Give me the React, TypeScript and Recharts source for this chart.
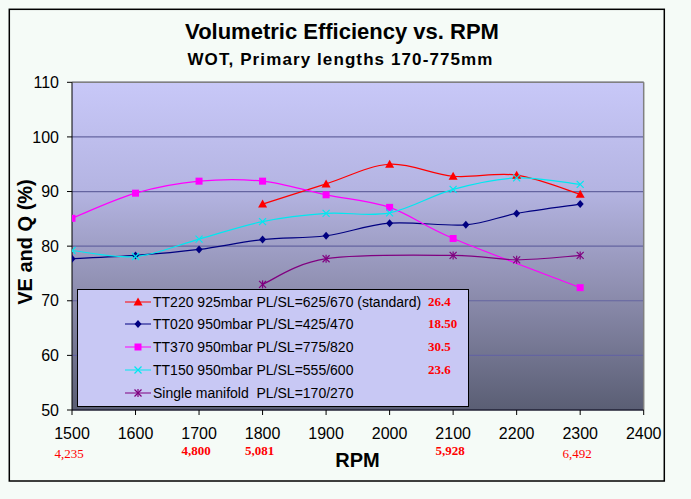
import React from "react";
import { CartesianGrid, Legend, Line, LineChart, ReferenceLine, XAxis, YAxis } from "recharts";

const rpmTicks = [1500, 1600, 1700, 1800, 1900, 2000, 2100, 2200, 2300, 2400];
const veTicks = [50, 60, 70, 80, 90, 100, 110];

const tt220Rpm = [1800, 1900, 2000, 2100, 2200, 2300];
const tt220Ve = [87.7, 91.4, 95.0, 92.8, 93.0, 89.5];

const tt020Rpm = [1500, 1600, 1700, 1800, 1900, 2000, 2120, 2200, 2300];
const tt020Ve = [77.7, 78.3, 79.4, 81.2, 81.9, 84.2, 83.9, 86.0, 87.7];

const tt370Rpm = [1500, 1600, 1700, 1800, 1900, 2000, 2100, 2300];
const tt370Ve = [85.1, 89.7, 91.9, 91.9, 89.4, 87.1, 81.4, 72.4];

const tt150Rpm = [1500, 1600, 1700, 1800, 1900, 2000, 2100, 2200, 2300];
const tt150Ve = [79.2, 78.1, 81.3, 84.5, 86.0, 86.1, 90.4, 92.5, 91.3];

const singleRpm = [1800, 1900, 2100, 2200, 2300];
const singleVe = [73.0, 77.7, 78.3, 77.5, 78.3];

// engine rpm notes printed under some of the x ticks
const noteRpm = [1500, 1700, 1800, 2100, 2300];
const noteText = ["4,235", "4,800", "5,081", "5,928", "6,492"];
const noteBold = [false, true, true, true, false];

const seriesNames = [
  "TT220 925mbar PL/SL=625/670 (standard)",
  "TT020 950mbar PL/SL=425/470",
  "TT370 950mbar PL/SL=775/820",
  "TT150 950mbar PL/SL=555/600",
  "Single manifold  PL/SL=170/270",
];
const seriesNotes = ["26.4", "18.50", "30.5", "23.6", ""];

const SANS = "Arial, 'Liberation Sans', sans-serif";
const SERIF = "'Times New Roman', 'Liberation Serif', serif";

const toPoints = (rpm: number[], ve: number[]) => rpm.map((r, i) => ({ rpm: r, ve: ve[i] }));

const series = [
  { key: "tt220", data: toPoints(tt220Rpm, tt220Ve), color: "#ff0000", shape: "triangle" },
  { key: "tt020", data: toPoints(tt020Rpm, tt020Ve), color: "#000080", shape: "diamond" },
  { key: "tt370", data: toPoints(tt370Rpm, tt370Ve), color: "#ff00ff", shape: "square" },
  { key: "tt150", data: toPoints(tt150Rpm, tt150Ve), color: "#00e8f0", shape: "cross" },
  { key: "single", data: toPoints(singleRpm, singleVe), color: "#800080", shape: "star" },
];

// Excel-style smoothed line (Catmull-Rom through the points)
function excelSmooth(context: any) {
  let pts: number[][] = [];
  return {
    areaStart() {},
    areaEnd() {},
    lineStart() {
      pts = [];
    },
    point(x: number, y: number) {
      pts.push([+x, +y]);
    },
    lineEnd() {
      const n = pts.length;
      if (!n) return;
      context.moveTo(pts[0][0], pts[0][1]);
      for (let i = 0; i < n - 1; i++) {
        const p0 = pts[Math.max(i - 1, 0)];
        const p1 = pts[i];
        const p2 = pts[i + 1];
        const p3 = pts[Math.min(i + 2, n - 1)];
        context.bezierCurveTo(
          p1[0] + (p2[0] - p0[0]) / 6,
          p1[1] + (p2[1] - p0[1]) / 6,
          p2[0] - (p3[0] - p1[0]) / 6,
          p2[1] - (p3[1] - p1[1]) / 6,
          p2[0],
          p2[1]
        );
      }
    },
  };
}

function Marker({ shape, cx, cy, color }: { shape: string; cx: number; cy: number; color: string }) {
  if (shape === "triangle") {
    return <polygon points={`${cx - 4.5},${cy + 3.5} ${cx + 4.5},${cy + 3.5} ${cx},${cy - 4.5}`} fill={color} />;
  }
  if (shape === "diamond") {
    return <polygon points={`${cx},${cy - 4} ${cx + 3.5},${cy} ${cx},${cy + 4} ${cx - 3.5},${cy}`} fill={color} />;
  }
  if (shape === "square") {
    return <rect x={cx - 3.5} y={cy - 3.5} width={7} height={7} fill={color} />;
  }
  const d = 3.5;
  return (
    <g stroke={color} strokeWidth={1.2}>
      <line x1={cx - d} y1={cy - d} x2={cx + d} y2={cy + d} />
      <line x1={cx - d} y1={cy + d} x2={cx + d} y2={cy - d} />
      {shape === "star" ? <line x1={cx} y1={cy - d - 0.5} x2={cx} y2={cy + d + 0.5} /> : null}
    </g>
  );
}

function RpmTick(props: any) {
  const { x, y, payload } = props;
  const idx = noteRpm.indexOf(payload.value);
  return (
    <g>
      <text x={x} y={y + 21.5} textAnchor="middle" fontSize={16} fontFamily={SANS} fill="#000">
        {payload.value}
      </text>
      {idx >= 0 ? (
        <text
          x={x - 3}
          y={y + (noteBold[idx] ? 38 : 41)}
          textAnchor="middle"
          fontSize={13}
          fontWeight={noteBold[idx] ? "bold" : "normal"}
          fontFamily={SERIF}
          fill="#ff0000"
        >
          {noteText[idx]}
        </text>
      ) : null}
    </g>
  );
}

function LegendBox() {
  return (
    <div
      style={{
        width: 392,
        height: 118,
        boxSizing: "border-box",
        background: "#c8c8f4",
        border: "1.5px solid #000",
        position: "relative",
        fontFamily: SANS,
      }}
    >
      {series.map((s, i) => (
        <div
          key={s.key}
          style={{ position: "absolute", left: 0, top: 0.5 + i * 22.9, height: 22, width: "100%", display: "flex", alignItems: "center" }}
        >
          <svg width={26} height={22} style={{ position: "absolute", left: 47 }}>
            <line x1={0} y1={11} x2={26} y2={11} stroke={s.color} strokeWidth={1} />
            <Marker shape={s.shape} cx={13} cy={11} color={s.color} />
          </svg>
          <span style={{ position: "absolute", left: 75, fontSize: 14, color: "#000", whiteSpace: "pre", lineHeight: "22px" }}>
            {seriesNames[i]}
          </span>
          {seriesNotes[i] ? (
            <span
              style={{
                position: "absolute",
                left: 350,
                fontSize: 13,
                fontWeight: "bold",
                fontFamily: SERIF,
                color: "#ff0000",
                lineHeight: "22px",
              }}
            >
              {seriesNotes[i]}
            </span>
          ) : null}
        </div>
      ))}
    </div>
  );
}

export default function App() {
  return (
    <div style={{ position: "fixed", left: 0, top: 0, width: 691, height: 499, background: "#f5fbf7" }}>
      <LineChart width={691} height={499} margin={{ top: 82.3, right: 47.3, bottom: 29, left: 0 }}>
        <defs>
          <linearGradient id="plotBg" x1="0" y1="0" x2="0" y2="1">
            <stop offset="0%" stopColor="#c8c8f8" />
            <stop offset="33%" stopColor="#b4b4e2" />
            <stop offset="62%" stopColor="#9090b2" />
            <stop offset="100%" stopColor="#5a5e74" />
          </linearGradient>
        </defs>
        <rect x={9.3} y={9.3} width={655} height={471.7} fill="none" stroke="#000" strokeWidth={1.5} />
        <CartesianGrid fill="url(#plotBg)" fillOpacity={1} vertical={false} stroke="#6464a0" strokeWidth={1.2} />
        <XAxis
          type="number"
          dataKey="rpm"
          domain={[1500, 2400]}
          ticks={rpmTicks}
          allowDataOverflow
          height={60}
          tickSize={5}
          tickMargin={2}
          stroke="#000"
          tick={<RpmTick />}
        />
        <YAxis
          type="number"
          dataKey="ve"
          domain={[50, 110]}
          ticks={veTicks}
          width={72}
          tickSize={5}
          tickMargin={8}
          stroke="#000"
          tick={{ fontSize: 16, fontFamily: SANS, fill: "#000" }}
        />
        <ReferenceLine y={110} stroke="#808080" strokeWidth={1.5} />
        <ReferenceLine x={2400} stroke="#808080" strokeWidth={1.5} />
        {series.map((s) => (
          <Line
            key={s.key}
            data={s.data}
            dataKey="ve"
            type={excelSmooth as any}
            stroke={s.color}
            strokeWidth={1.2}
            isAnimationActive={false}
            activeDot={false}
            dot={(p: any) => <Marker key={`${s.key}-${p.index}`} shape={s.shape} cx={p.cx} cy={p.cy} color={s.color} />}
          />
        ))}
        <Legend
          layout="vertical"
          align="center"
          verticalAlign="middle"
          wrapperStyle={{ position: "absolute", left: 77, top: 289, width: 392, height: 118 }}
          content={<LegendBox />}
        />
        <text x={342} y={39.3} textAnchor="middle" fontSize={22} fontWeight="bold" fontFamily={SANS} fill="#000">
          Volumetric Efficiency vs. RPM
        </text>
        <text
          x={340.5}
          y={65}
          textAnchor="middle"
          fontSize={17}
          letterSpacing={1.1}
          fontWeight="bold"
          fontFamily={SANS}
          fill="#000"
        >
          WOT, Primary lengths 170-775mm
        </text>
        <text x={357.5} y={466.7} textAnchor="middle" fontSize={20} fontWeight="bold" fontFamily={SANS} fill="#000">
          RPM
        </text>
        <text
          x={31.5}
          y={242}
          transform="rotate(-90 31.5 242)"
          textAnchor="middle"
          fontSize={20}
          fontWeight="bold"
          fontFamily={SANS}
          fill="#000"
        >
          VE and Q (%)
        </text>
      </LineChart>
    </div>
  );
}
